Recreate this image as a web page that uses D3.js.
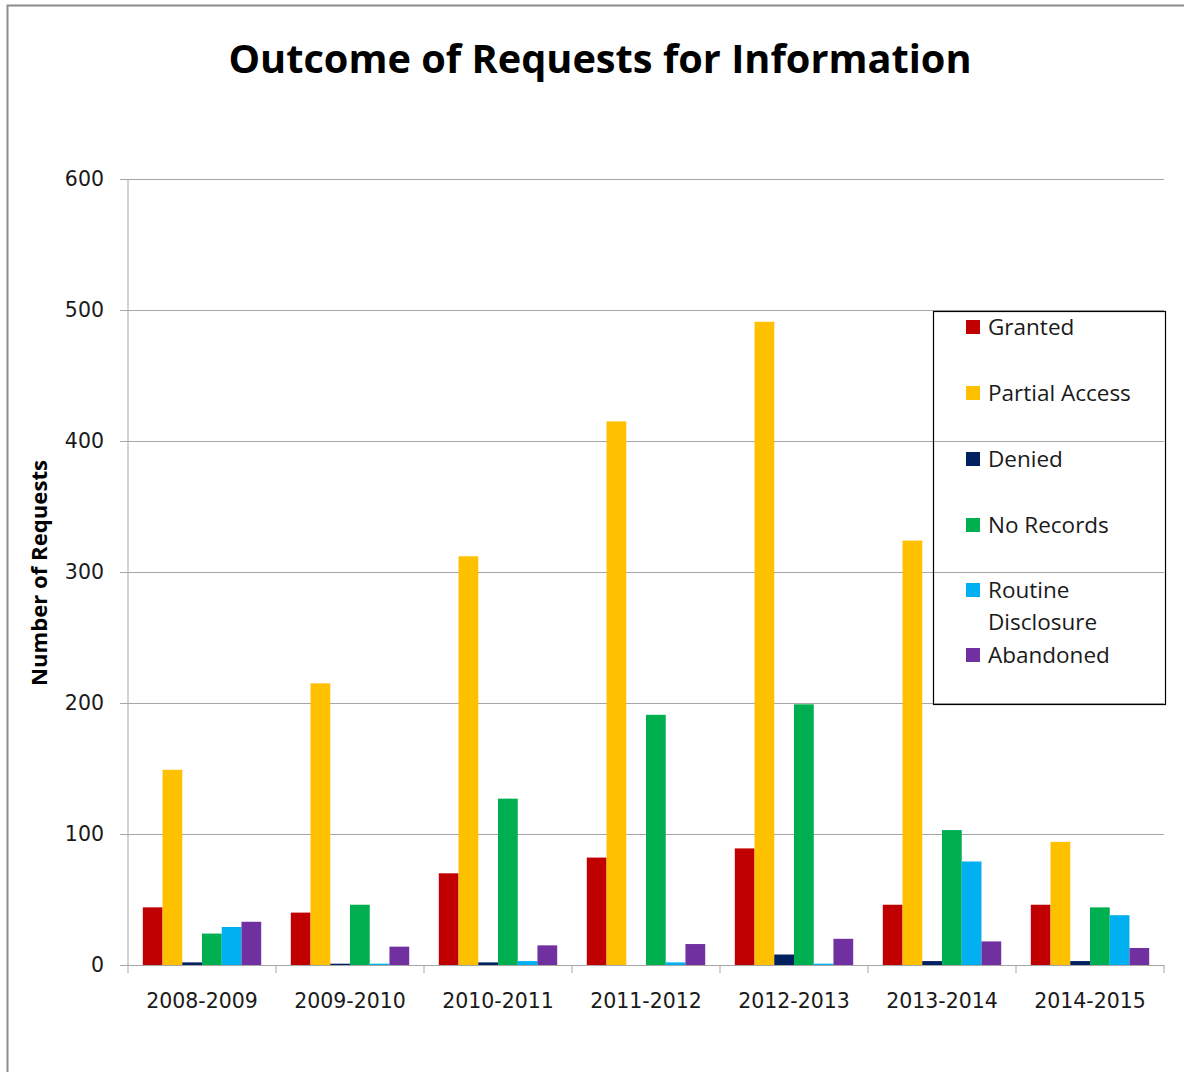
<!DOCTYPE html>
<html>
<head>
<meta charset="utf-8">
<script src="https://cdn.jsdelivr.net/npm/d3@7"></script>
<style>
  body { margin: 0; background: #fff; }
  svg { display: block; }
</style>
</head>
<body>
<div class="chart"></div>
<script>
const years = ["2008-2009", "2009-2010", "2010-2011", "2011-2012", "2012-2013", "2013-2014", "2014-2015"];
const seriesNames = ["Granted", "Partial Access", "Denied", "No Records", "Routine Disclosure", "Abandoned"];
const granted = [44, 40, 70, 82, 89, 46, 46];
const partialAccess = [149, 215, 312, 415, 491, 324, 94];
const denied = [2, 1, 2, 0, 8, 3, 3];
const noRecords = [24, 46, 127, 191, 199, 103, 44];
const routineDisclosure = [29, 1, 3, 2, 1, 79, 38];
const abandoned = [33, 14, 15, 16, 20, 18, 13];
const colors = ["#C00000", "#FFC000", "#002060", "#00B050", "#00B0F0", "#7030A0"];
const yTicks = [0, 100, 200, 300, 400, 500, 600];

const WIDTH = 1184, HEIGHT = 1072;
const margin = {left: 128, right: 20, top: 179, bottom: 107};

const values = [granted, partialAccess, denied, noRecords, routineDisclosure, abandoned];
const rows = years.map((y, i) => ({year: y, vals: values.map(v => v[i])}));

const svg = d3.select(".chart").append("svg")
  .attr("width", WIDTH)
  .attr("height", HEIGHT);

// outer chart frame
svg.append("rect")
  .attr("x", 7.5).attr("y", 5.5)
  .attr("width", WIDTH + 10).attr("height", HEIGHT + 10)
  .attr("fill", "#fff")
  .attr("stroke", "#8c8c8c")
  .attr("stroke-width", 2);

const x0 = d3.scaleBand()
  .domain(years)
  .range([margin.left, WIDTH - margin.right])
  .paddingInner(0).paddingOuter(0);

const x1 = d3.scaleBand()
  .domain(d3.range(seriesNames.length))
  .range([0, x0.bandwidth()])
  .paddingInner(0).paddingOuter(0.75);

const y = d3.scaleLinear()
  .domain([0, 600])
  .range([HEIGHT - margin.bottom, margin.top]);

// gridlines + y axis
const yAxis = d3.axisLeft(y)
  .tickValues(yTicks)
  .tickSize(-(WIDTH - margin.right - margin.left))
  .tickPadding(24);

const yg = svg.append("g")
  .attr("transform", `translate(${margin.left},0)`)
  .call(yAxis);
yg.select(".domain").remove();
yg.selectAll(".tick line")
  .attr("x1", -8)
  .attr("stroke", "#a6a6a6")
  .attr("stroke-width", 1);
yg.selectAll(".tick text")
  .attr("font-family", "DejaVu Sans")
  .attr("font-size", 20.5)
  .attr("fill", "#1a1a1a");

svg.append("line")
  .attr("x1", margin.left).attr("x2", margin.left)
  .attr("y1", y(600)).attr("y2", y(0))
  .attr("stroke", "#a6a6a6");

// bars
const groups = svg.selectAll("g.group")
  .data(rows)
  .enter().append("g")
  .attr("class", "group")
  .attr("transform", d => `translate(${x0(d.year)},0)`);

groups.selectAll("rect")
  .data(d => d.vals)
  .enter().append("rect")
  .attr("x", (d, i) => x1(i))
  .attr("y", d => y(d))
  .attr("width", x1.bandwidth())
  .attr("height", d => y(0) - y(d))
  .attr("fill", (d, i) => colors[i]);

// x axis
const xAxis = d3.axisBottom(x0).tickSize(0).tickPadding(28);
const xg = svg.append("g")
  .attr("transform", `translate(0,${y(0)})`)
  .call(xAxis);
xg.select(".domain").attr("stroke", "#a6a6a6");
xg.selectAll(".tick text")
  .attr("font-family", "DejaVu Sans")
  .attr("font-size", 20.5)
  .attr("fill", "#1a1a1a");

const bounds = years.map(d => x0(d)).concat([WIDTH - margin.right]);
xg.selectAll("line.bound")
  .data(bounds)
  .enter().append("line")
  .attr("class", "bound")
  .attr("x1", d => d).attr("x2", d => d)
  .attr("y1", 0).attr("y2", 8)
  .attr("stroke", "#a6a6a6");

// title
svg.append("text")
  .attr("x", 600).attr("y", 73)
  .attr("text-anchor", "middle")
  .attr("font-family", "Open Sans")
  .attr("font-weight", "bold")
  .attr("font-size", 40)
  .attr("textLength", 743)
  .attr("lengthAdjust", "spacingAndGlyphs")
  .text("Outcome of Requests for Information");

// y axis title
svg.append("text")
  .attr("transform", "translate(47,573) rotate(-90)")
  .attr("text-anchor", "middle")
  .attr("font-family", "Open Sans")
  .attr("font-weight", "bold")
  .attr("font-size", 21)
  .attr("textLength", 226)
  .attr("lengthAdjust", "spacingAndGlyphs")
  .text("Number of Requests");

// legend
const legend = svg.append("g").attr("transform", "translate(933,311)");
legend.append("rect")
  .attr("x", 0.5).attr("y", 0.5)
  .attr("width", 232).attr("height", 393)
  .attr("fill", "none")
  .attr("stroke", "#000")
  .attr("stroke-width", 1.2);

const legendY = [16, 82, 148, 214, 279, 344];
const items = legend.selectAll("g.item")
  .data(seriesNames)
  .enter().append("g")
  .attr("class", "item")
  .attr("transform", (d, i) => `translate(33,${legendY[i]})`);

items.append("rect")
  .attr("x", 0).attr("y", -7)
  .attr("width", 14).attr("height", 14)
  .attr("fill", (d, i) => colors[i]);

items.append("text")
  .attr("x", 22).attr("y", 8)
  .attr("font-family", "Open Sans")
  .attr("font-size", 22.5)
  .attr("fill", "#1a1a1a")
  .each(function(d) {
    const words = d === "Routine Disclosure" ? ["Routine", "Disclosure"] : [d];
    words.forEach((w, k) => {
      d3.select(this).append("tspan")
        .attr("x", 22)
        .attr("dy", k === 0 ? 0 : 32)
        .text(w);
    });
  });
</script>
</body>
</html>
